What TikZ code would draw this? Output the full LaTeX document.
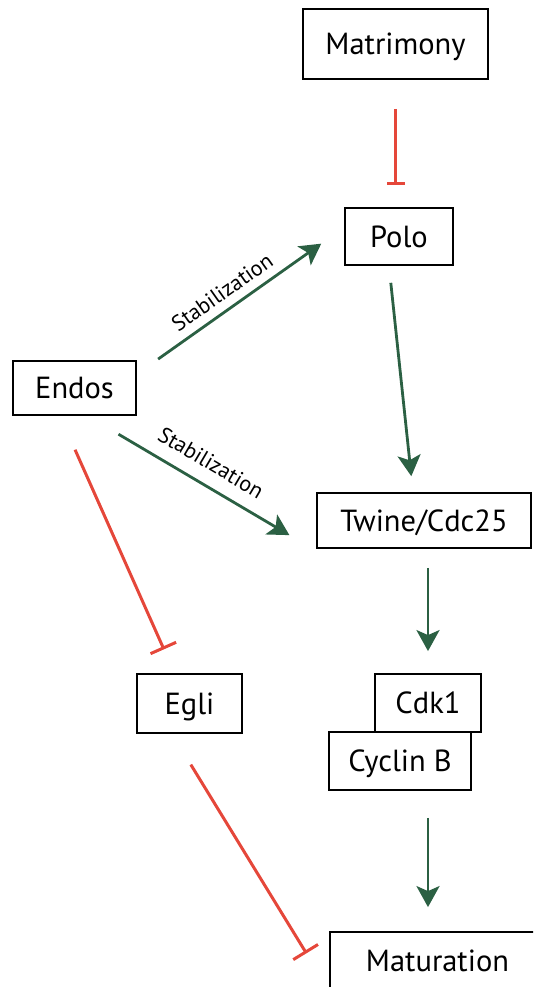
\documentclass[tikz,border=0pt]{standalone}
\usepackage{fontspec}
\setsansfont{PT Sans}
\usepackage{xcolor}
\usetikzlibrary{arrows.meta,positioning,calc}
\definecolor{ActGreen}{HTML}{2B6043}
\definecolor{InhRed}{HTML}{E5473A}

\begin{document}
\begin{tikzpicture}[x=1pt,y=1pt,
  gene/.style={draw=black,fill=white,line width=1.8pt,inner sep=0pt,
    text height=21pt,text depth=0pt,
    font=\sffamily\fontsize{30.5}{32}\selectfont},
  act/.style={-{Stealth[length=21pt,width=23pt,inset=5pt]},
    draw=ActGreen,line width=2.8pt},
  inh/.style={-{Bar[width=#1]},draw=InhRed,line width=3pt},
  inh/.default=18pt,
  stab/.style={font=\sffamily\fontsize{22}{24}\selectfont,sloped}
]
\useasboundingbox (0,0) rectangle (533,-987);
\clip (0,0) rectangle (533,-987);
% proteins
\node[gene,minimum width=185pt,minimum height=70pt] (matrimony) at (395.5,-44) {Matrimony};
\node[gene,minimum width=108pt,minimum height=57pt] (polo) at (399,-236.5) {Polo};
\node[gene,minimum width=123pt,minimum height=54pt] (endos) at (74.5,-388) {Endos};
\node[gene,minimum width=214pt,minimum height=55pt] (twine) at (424,-520.5) {Twine/Cdc25};
\node[gene,minimum width=105pt,minimum height=59pt] (egli) at (189.5,-703.5) {Egli};
\node[gene,minimum width=142pt,minimum height=58pt] (cyclin) at (400,-761) {Cyclin B};
\node[gene,minimum width=106pt,minimum height=58pt] (cdk) at (428,-703) {Cdk1};
\node[gene,minimum width=215pt,minimum height=58pt] (mat) at (437.5,-961) {Maturation};
% activation
\draw[act,shorten <=26pt,shorten >=28pt] ([yshift=-14pt]endos.north east) -- ([yshift=9pt]polo.west)
  node[stab,above=5pt,pos=.46]{Stabilization};
\draw[act,shorten <=36pt,shorten >=31pt] ([xshift=13pt]endos.south) -- ([yshift=-2pt]twine.south west)
  node[stab,above=10pt,pos=.49]{Stabilization};
\draw[act,shorten <=17pt,shorten >=16pt] ([xshift=-10pt]polo.south) -- ([xshift=-11pt]twine.north);
\draw[act,shorten <=19pt,shorten >=22pt] (cdk.north |- twine.south) -- (cdk.north);
\draw[act,shorten <=27pt,shorten >=24pt] (cdk.south |- cyclin.south) -- (cdk.south |- mat.north);
% inhibition
\draw[inh,shorten <=29pt,shorten >=22pt] (matrimony.south) -- (matrimony.south |- polo.north);
\draw[inh=28pt,shorten <=37pt,shorten >=26pt] ([xshift=-14.5pt]endos.south) -- ([xshift=-15pt]egli.north);
\draw[inh=29pt,shorten <=36pt,shorten >=9pt] ([xshift=-17.5pt]egli.south) -- ([xshift=-18pt]mat.west);
\end{tikzpicture}
\end{document}
